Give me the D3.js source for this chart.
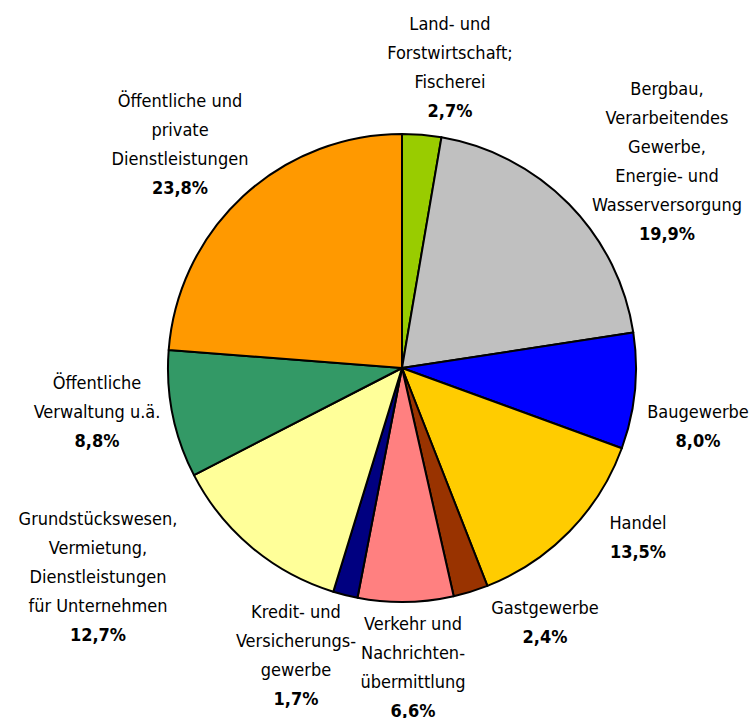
<!DOCTYPE html>
<html>
<head>
<meta charset="utf-8">
<script src="https://cdn.jsdelivr.net/npm/d3@7"></script>
<style>
  body { margin: 0; background: #fff; }
  text { font-family: "Liberation Sans Narrow", "DejaVu Sans Condensed", sans-serif; font-size: 18px; fill: #000; }
  .pct { font-weight: bold; }
</style>
</head>
<body>
<div id="chart"></div>
<script>
// data
var sectors = [
  ["Land- und", "Forstwirtschaft;", "Fischerei"],
  ["Bergbau,", "Verarbeitendes", "Gewerbe,", "Energie- und", "Wasserversorgung"],
  ["Baugewerbe"],
  ["Handel"],
  ["Gastgewerbe"],
  ["Verkehr und", "Nachrichten-", "übermittlung"],
  ["Kredit- und", "Versicherungs-", "gewerbe"],
  ["Grundstückswesen,", "Vermietung,", "Dienstleistungen", "für Unternehmen"],
  ["Öffentliche", "Verwaltung u.ä."],
  ["Öffentliche und", "private", "Dienstleistungen"]
];
var shares = [2.7, 19.9, 8.0, 13.5, 2.4, 6.6, 1.7, 12.7, 8.8, 23.8];
var colors = ["#99CC00", "#C0C0C0", "#0000FF", "#FFCC00", "#993300",
              "#FF8080", "#000080", "#FFFF99", "#339966", "#FF9900"];

// label layout: centre x and first baseline y of each label block
var labelPos = [[450, 30], [667, 95], [698, 418], [638, 529], [545, 614],
                [413, 630], [296, 618], [98, 525], [97, 389], [180, 107]];

var width = 754, height = 718,
    cx = 402, cy = 368, radius = 234,
    lineH = 29;

var svg = d3.select("#chart").append("svg")
    .attr("width", width)
    .attr("height", height);

var pie = d3.pie().sort(null).value(function(d) { return d; });
var arc = d3.arc().innerRadius(0).outerRadius(radius);

var g = svg.append("g").attr("transform", "translate(" + cx + "," + cy + ")");

g.selectAll("path")
  .data(pie(shares))
  .enter().append("path")
    .attr("d", arc)
    .attr("fill", function(d, i) { return colors[i]; })
    .attr("stroke", "#000")
    .attr("stroke-width", 2)
    .attr("stroke-linejoin", "round");

// labels
var labels = svg.selectAll("g.label")
  .data(sectors)
  .enter().append("g")
    .attr("class", "label")
    .attr("transform", function(d, i) { return "translate(" + labelPos[i][0] + "," + labelPos[i][1] + ")"; });

labels.each(function(lines, i) {
  var sel = d3.select(this);
  lines.forEach(function(t, j) {
    sel.append("text")
      .attr("text-anchor", "middle")
      .attr("y", j * lineH)
      .text(t);
  });
  sel.append("text")
    .attr("class", "pct")
    .attr("text-anchor", "middle")
    .attr("y", lines.length * lineH)
    .text(d3.format(".1f")(shares[i]).replace(".", ",") + "%");
});
</script>
</body>
</html>
